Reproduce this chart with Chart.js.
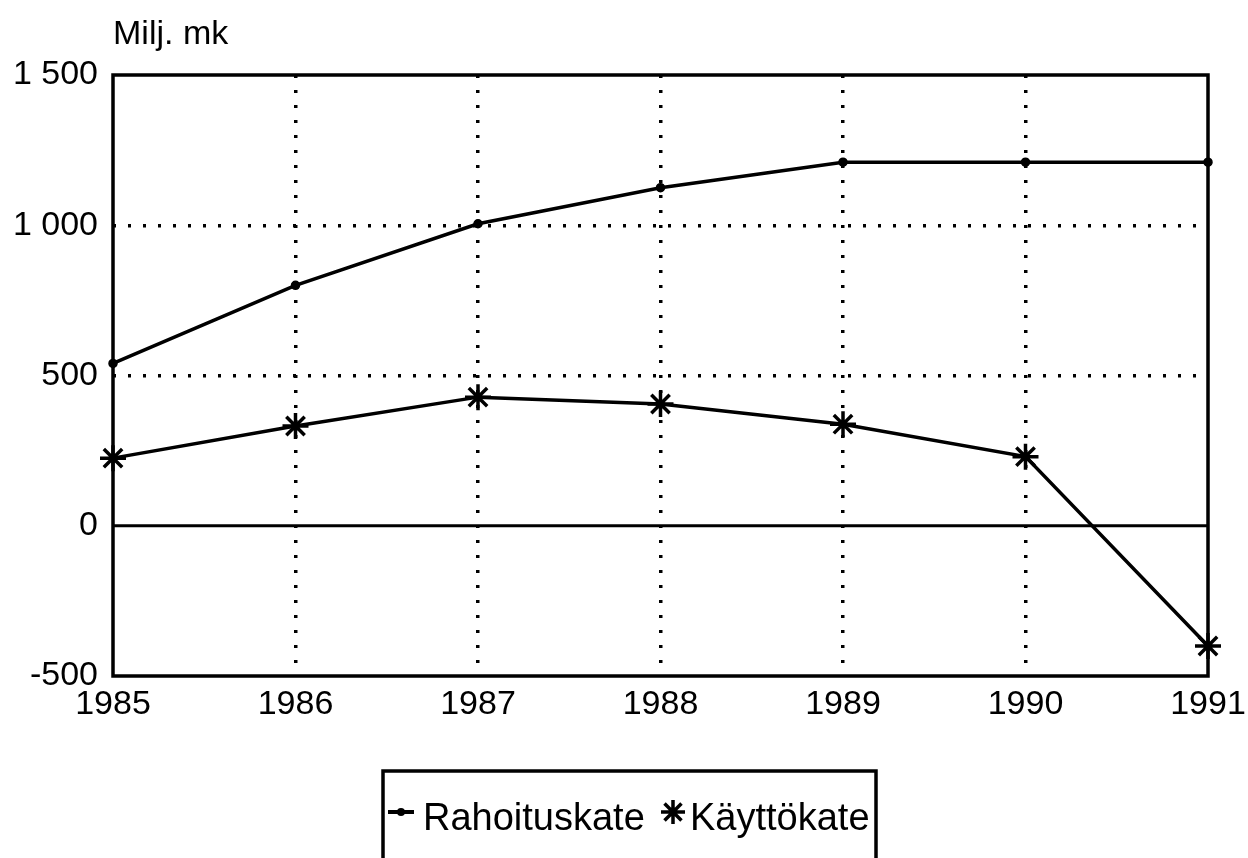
<!DOCTYPE html>
<html>
<head>
<meta charset="utf-8">
<script src="https://cdn.jsdelivr.net/npm/chart.js@4"></script>
<style>
  html, body { margin: 0; padding: 0; background: #fff; }
  #wrap { width: 1248px; height: 858px; }
</style>
</head>
<body>
<div id="wrap"><canvas id="myChart" width="1248" height="858"></canvas></div>
<script>
//Chart data:
const years = ['1985', '1986', '1987', '1988', '1989', '1990', '1991'];
const rahoituskate = [540, 800, 1005, 1125, 1210, 1210, 1210];
const kayttokate = [225, 332, 428, 405, 338, 230, -400];
const yTicks = [-500, 0, 500, 1000, 1500];
const unitLabel = 'Milj. mk';

const FONT = '"Liberation Sans", Arial, Helvetica, sans-serif';

//Format 1500 as "1 500":
const fmt = v => String(v).replace(/\B(?=(\d{3})+(?!\d))/g, ' ');

//Frame, zero line, unit label and boxed legend:
const extras = {
    id: 'extras',
    beforeDatasetsDraw(chart) {
        const {ctx, chartArea: a, scales: {y}} = chart;
        const y0 = y.getPixelForValue(0);
        ctx.save();
        ctx.strokeStyle = '#000';
        ctx.lineWidth = 3;
        ctx.beginPath();
        ctx.moveTo(a.left, y0);
        ctx.lineTo(a.right, y0);
        ctx.stroke();
        ctx.lineWidth = 3.5;
        ctx.strokeRect(a.left, a.top, a.right - a.left, a.bottom - a.top);
        ctx.restore();
    },
    afterDraw(chart) {
        const {ctx} = chart;
        ctx.save();
        ctx.fillStyle = '#000';
        ctx.font = '34px ' + FONT;
        ctx.textBaseline = 'alphabetic';
        ctx.textAlign = 'left';
        ctx.fillText(unitLabel, 113, 44);

        //legend box
        ctx.strokeStyle = '#000';
        ctx.lineWidth = 3.5;
        ctx.strokeRect(383, 771, 493, 110);

        const ly = 812;
        const ds = chart.data.datasets;
        // Rahoituskate symbol: short line with small dot
        ctx.lineWidth = 4;
        ctx.beginPath();
        ctx.moveTo(388, ly);
        ctx.lineTo(414, ly);
        ctx.stroke();
        ctx.beginPath();
        ctx.arc(401, ly, 4, 0, Math.PI * 2);
        ctx.fill();
        ctx.font = '38px ' + FONT;
        ctx.fillText(ds[0].label, 423, 830);

        // Käyttökate symbol: asterisk
        const sx = 673, sy = ly, r = 12;
        ctx.lineWidth = 3.5;
        ctx.beginPath();
        for (let i = 0; i < 4; i++) {
            const ang = i * Math.PI / 4;
            ctx.moveTo(sx - r * Math.cos(ang), sy - r * Math.sin(ang));
            ctx.lineTo(sx + r * Math.cos(ang), sy + r * Math.sin(ang));
        }
        ctx.stroke();
        ctx.fillText(ds[1].label, 690, 830);
        ctx.restore();
    }
};

const ctx = document.getElementById('myChart').getContext('2d');

const chart = new Chart(ctx, {
    type: 'line',
    data: {
        labels: years,
        datasets: [{
            label: 'Rahoituskate',
            data: rahoituskate,
            borderColor: '#000',
            borderWidth: 3.5,
            pointStyle: 'circle',
            pointRadius: 4,
            pointBorderWidth: 1.5,
            pointBackgroundColor: '#000',
            pointBorderColor: '#000',
            tension: 0
        }, {
            label: 'Käyttökate',
            data: kayttokate,
            borderColor: '#000',
            borderWidth: 3.5,
            pointStyle: 'star',
            pointRadius: 13,
            pointBorderWidth: 3.5,
            pointBackgroundColor: '#000',
            pointBorderColor: '#000',
            tension: 0
        }]
    },
    options: {
        responsive: false,
        animation: false,
        devicePixelRatio: 1,
        layout: { padding: { top: 75, right: 40, bottom: 0, left: 0 } },
        plugins: {
            legend: { display: false },
            tooltip: { enabled: false }
        },
        scales: {
            x: {
                offset: false,
                afterFit: s => { s.height = 182; s.paddingLeft = 0; s.paddingRight = 0; },
                grid: {
                    color: c => (c.index === 0 || c.index === years.length - 1) ? 'rgba(0,0,0,0)' : '#000',
                    lineWidth: 3.5,
                    drawTicks: false
                },
                border: { display: false, dash: [3, 12] },
                ticks: {
                    color: '#000',
                    font: { family: FONT, size: 34 },
                    padding: 8,
                    maxRotation: 0,
                    autoSkip: false
                }
            },
            y: {
                min: yTicks[0],
                max: yTicks[yTicks.length - 1],
                afterBuildTicks: scale => { scale.ticks = yTicks.map(v => ({value: v})); },
                afterFit: scale => { scale.width = 113; scale.paddingTop = 0; scale.paddingBottom = 0; },
                grid: {
                    color: c => (c.tick.value === 500 || c.tick.value === 1000) ? '#000' : 'rgba(0,0,0,0)',
                    lineWidth: 3.5,
                    drawTicks: false
                },
                border: { display: false, dash: [3, 12] },
                ticks: {
                    color: '#000',
                    font: { family: FONT, size: 34 },
                    padding: 15,
                    callback: v => fmt(v)
                }
            }
        }
    },
    plugins: [extras]
});
</script>
</body>
</html>
